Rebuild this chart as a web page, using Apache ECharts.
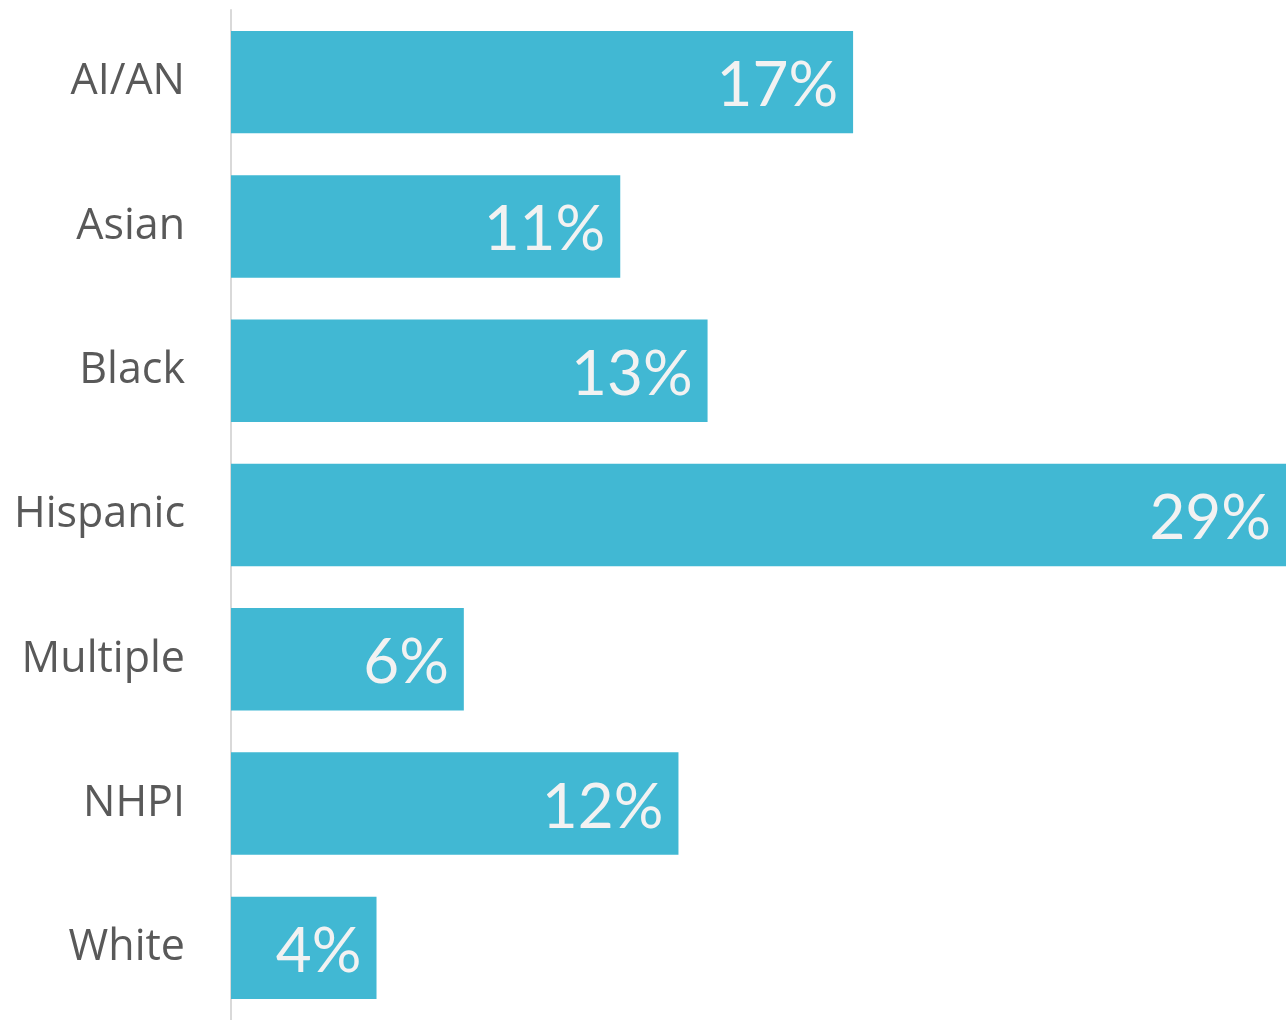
<!DOCTYPE html>
<html><head><meta charset="utf-8">
<script src="https://cdn.jsdelivr.net/npm/echarts@6/dist/echarts.min.js"></script>
<style>html,body{margin:0;padding:0;background:#fff}#c{width:1286px;height:1020px}</style>
</head><body><div id="c"></div>
<script>
const categories = ["AI/AN","Asian","Black","Hispanic","Multiple","NHPI","White"];
const values = [17.1, 10.7, 13.1, 29.0, 6.4, 12.3, 4.0];
const labels = ["17%","11%","13%","29%","6%","12%","4%"];

const chart = echarts.init(document.getElementById('c'), null, {renderer:'canvas'});
chart.setOption({
  animation:false,
  grid:{left:231,right:0,top:10,height:1018,containLabel:false},
  xAxis:{type:'value',min:0,max:29,show:false},
  yAxis:{type:'category',data:categories,inverse:true,
    axisLine:{show:true,lineStyle:{color:'#d9d9d9',width:2}},
    axisTick:{show:false},
    axisLabel:{color:'#595959',fontSize:43,fontFamily:'Open Sans',margin:46,padding:[4,0,0,0]}},
  series:[{type:'bar',data:values,barCategoryGap:'29%',
    itemStyle:{color:'#41B8D3'},
    label:{show:true,position:'insideRight',offset:[-10,4],color:'#F2F2F2',fontSize:62,fontFamily:'Lato',
      formatter:p=>labels[p.dataIndex]}}]
});
</script></body></html>
